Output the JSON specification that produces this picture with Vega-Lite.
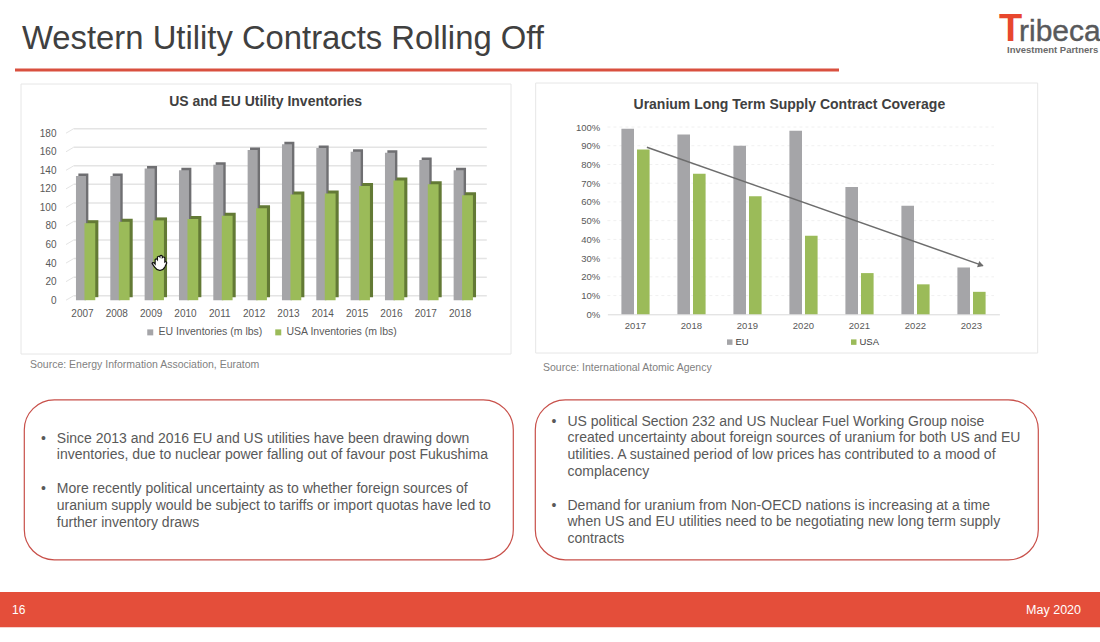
{"$schema":"https://vega.github.io/schema/vega-lite/v6.json","padding":0,"background":"#ffffff","spacing":31,"bounds":"full","resolve":{"scale":{"color":"independent"},"legend":{"color":"independent"}},
"config":{"view":{"stroke":null},"font":"Liberation Sans","axis":{"labelFont":"Liberation Sans","labelColor":"#595959","title":null,"ticks":false,"domain":false,"grid":false,"zindex":1},"legend":{"labelFont":"Liberation Sans"},"title":{"font":"Liberation Sans","fontWeight":"bold","color":"#404040","anchor":"middle"}},
"datasets":{
"inv":[
{"year":"2007","series":"EU Inventories (m lbs)","value":134},{"year":"2008","series":"EU Inventories (m lbs)","value":134},{"year":"2009","series":"EU Inventories (m lbs)","value":142},{"year":"2010","series":"EU Inventories (m lbs)","value":140},{"year":"2011","series":"EU Inventories (m lbs)","value":146},{"year":"2012","series":"EU Inventories (m lbs)","value":162},{"year":"2013","series":"EU Inventories (m lbs)","value":168},{"year":"2014","series":"EU Inventories (m lbs)","value":164},{"year":"2015","series":"EU Inventories (m lbs)","value":160},{"year":"2016","series":"EU Inventories (m lbs)","value":159},{"year":"2017","series":"EU Inventories (m lbs)","value":151},{"year":"2018","series":"EU Inventories (m lbs)","value":140},
{"year":"2007","series":"USA Inventories (m lbs)","value":83},{"year":"2008","series":"USA Inventories (m lbs)","value":84.5},{"year":"2009","series":"USA Inventories (m lbs)","value":86},{"year":"2010","series":"USA Inventories (m lbs)","value":87.5},{"year":"2011","series":"USA Inventories (m lbs)","value":91},{"year":"2012","series":"USA Inventories (m lbs)","value":99},{"year":"2013","series":"USA Inventories (m lbs)","value":114},{"year":"2014","series":"USA Inventories (m lbs)","value":115},{"year":"2015","series":"USA Inventories (m lbs)","value":123},{"year":"2016","series":"USA Inventories (m lbs)","value":129},{"year":"2017","series":"USA Inventories (m lbs)","value":125},{"year":"2018","series":"USA Inventories (m lbs)","value":113}],
"cov":[
{"year":"2017","series":"EU","value":0.99},{"year":"2018","series":"EU","value":0.96},{"year":"2019","series":"EU","value":0.9},{"year":"2020","series":"EU","value":0.98},{"year":"2021","series":"EU","value":0.68},{"year":"2022","series":"EU","value":0.58},{"year":"2023","series":"EU","value":0.25},
{"year":"2017","series":"USA","value":0.88},{"year":"2018","series":"USA","value":0.75},{"year":"2019","series":"USA","value":0.63},{"year":"2020","series":"USA","value":0.42},{"year":"2021","series":"USA","value":0.22},{"year":"2022","series":"USA","value":0.16},{"year":"2023","series":"USA","value":0.12}],
"invTicks":[{"tick":0},{"tick":20},{"tick":40},{"tick":60},{"tick":80},{"tick":100},{"tick":120},{"tick":140},{"tick":160},{"tick":180}],
"covTicks":[{"tick":0.1},{"tick":0.2},{"tick":0.3},{"tick":0.4},{"tick":0.5},{"tick":0.6},{"tick":0.7},{"tick":0.8},{"tick":0.9},{"tick":1}]
},
"vconcat":[
{"spacing":24.5,"bounds":"full","resolve":{"scale":{"color":"independent"},"legend":{"color":"independent"}},"vconcat":[
{"spacing":0,"bounds":"full","resolve":{"scale":{"color":"independent"},"legend":{"color":"independent"}},"vconcat":[
{"width":1100,"height":82,"layer":[
{"data":{"values":[{"label":"Western Utility Contracts Rolling Off"}]},"mark":{"type":"text","align":"left","baseline":"middle","fontSize":32.8,"color":"#404040"},"encoding":{"text":{"field":"label"},"x":{"value":22},"y":{"value":39}}},
{"data":{"values":[{"k":"rule"}]},"mark":{"type":"rule","color":"#d9503f","strokeWidth":3},"encoding":{"x":{"value":15},"x2":{"value":839},"y":{"value":70}}},
{"data":{"values":[{"label":"T"}]},"mark":{"type":"text","align":"left","baseline":"alphabetic","fontSize":38,"fontWeight":"bold","color":"#e8472e"},"encoding":{"text":{"field":"label"},"x":{"value":999},"y":{"value":41}}},
{"data":{"values":[{"label":"ribeca"}]},"mark":{"type":"text","align":"left","baseline":"alphabetic","fontSize":30,"color":"#58595b","stroke":"#58595b","strokeWidth":0.4},"encoding":{"text":{"field":"label"},"x":{"value":1019},"y":{"value":41}}},
{"data":{"values":[{"label":"Investment Partners"}]},"mark":{"type":"text","align":"left","baseline":"middle","fontSize":9.5,"fontWeight":"bold","color":"#6a6a6a"},"encoding":{"text":{"field":"label"},"x":{"value":1007},"y":{"value":49.5}}}
]},
{"spacing":0,"bounds":"flush","resolve":{"scale":{"color":"independent"},"legend":{"color":"independent"}},"hconcat":[
{"width":477.3,"height":187.3,"title":{"text":"US and EU Utility Inventories","fontSize":14,"offset":-25,"dx":27},
"encoding":{"x":{"field":"year","type":"nominal","scale":{"type":"band","range":[65.3,477.3],"padding":0},"axis":{"offset":-14.1,"labelAngle":0,"labelPadding":8,"labelFontSize":10}},"y":{"type":"quantitative","scale":{"domain":[0,180],"range":[173.2,6.2],"nice":false},"axis":{"offset":-59,"labelPadding":3,"values":[0,20,40,60,80,100,120,140,160,180],"labelFontSize":10}}},
"layer":[
{"data":{"values":[{"k":"card"}]},"mark":{"type":"rect","filled":false,"stroke":"#e6e6e6"},"encoding":{"x":{"value":21},"x2":{"value":511},"y":{"value":-43},"y2":{"value":227}}},
{"data":{"values":[{"label":"Source: Energy Information Association, Euratom"}]},"mark":{"type":"text","align":"left","baseline":"middle","fontSize":10.5,"color":"#7f7f7f"},"encoding":{"text":{"field":"label"},"x":{"value":30},"y":{"value":238}}},
{"data":{"name":"invTicks"},"mark":{"type":"rule","color":"#e4e4e4","strokeWidth":1.5,"yOffset":-4.5},"encoding":{"x":{"value":73.7},"x2":{"value":486.8},"y":{"field":"tick"}}},
{"data":{"name":"invTicks"},"mark":{"type":"rule","color":"#e4e4e4","strokeWidth":1,"y2Offset":-4.5},"encoding":{"x":{"value":66},"x2":{"value":73.7},"y":{"field":"tick"},"y2":{"field":"tick"}}},
{"data":{"name":"inv"},"transform":[{"filter":"datum.series==='EU Inventories (m lbs)'"}],"mark":{"type":"bar","width":10,"xOffset":0.9,"yOffset":-2.5,"y2Offset":-2.5,"color":"#6f6f72"},"encoding":{"y":{"field":"value"},"y2":{"datum":0}}},
{"data":{"name":"inv"},"transform":[{"filter":"datum.series==='EU Inventories (m lbs)'"}],"mark":{"type":"bar","width":10,"xOffset":-1.5},"encoding":{"y":{"field":"value"},"y2":{"datum":0},"color":{"field":"series","scale":{"domain":["EU Inventories (m lbs)","USA Inventories (m lbs)"],"range":["#a5a5a8","#9bbb59"]},"legend":{"orient":"none","legendX":145,"legendY":200,"direction":"horizontal","title":null,"symbolType":"square","symbolSize":36,"labelFontSize":10.5,"labelColor":"#595959","columnPadding":10,"labelOffset":3}}}},
{"data":{"name":"inv"},"transform":[{"filter":"datum.series==='USA Inventories (m lbs)'"}],"mark":{"type":"bar","width":10.8,"xOffset":10.5,"yOffset":-3,"y2Offset":-3,"color":"#637a35"},"encoding":{"y":{"field":"value"},"y2":{"datum":0}}},
{"data":{"name":"inv"},"transform":[{"filter":"datum.series==='USA Inventories (m lbs)'"}],"mark":{"type":"bar","width":10.8,"xOffset":7.4},"encoding":{"y":{"field":"value"},"y2":{"datum":0},"color":{"field":"series"}}},
{"data":{"values":[{"year":"2009","value":40}]},"mark":{"type":"point","filled":true,"fill":"#ffffff","stroke":"#111111","strokeWidth":1.2,"opacity":1,"size":400,"xOffset":9,"shape":"M-0.5 0.1 L-0.5 -0.35 Q-0.38 -0.5 -0.27 -0.35 L-0.27 -0.62 Q-0.14 -0.75 -0.03 -0.62 L-0.03 -0.7 Q0.1 -0.85 0.22 -0.7 L0.22 -0.55 Q0.36 -0.68 0.47 -0.52 L0.47 -0.1 Q0.62 -0.2 0.66 -0.02 L0.47 0.4 Q0.3 0.75 -0.05 0.72 Q-0.35 0.7 -0.55 0.4 L-0.8 0.05 Q-0.78 -0.1 -0.6 -0.02 Z"},"encoding":{"y":{"field":"value"}}}
]},
{"width":622.7,"height":187.3,"title":{"text":"Uranium Long Term Supply Contract Coverage","fontSize":14,"offset":-29,"dx":0},
"encoding":{"x":{"field":"year","type":"nominal","scale":{"type":"band","range":[129.4,521.4],"padding":0},"axis":{"domain":true,"domainColor":"#d9d9d9","labelAngle":0,"labelPadding":6,"labelFontSize":9.5}},"y":{"type":"quantitative","scale":{"domain":[0,1],"range":[187.3,0],"nice":false},"axis":{"offset":-125.7,"labelPadding":4,"format":".0%","values":[0,0.1,0.2,0.3,0.4,0.5,0.6,0.7,0.8,0.9,1],"labelFontSize":9.5}}},
"layer":[
{"data":{"values":[{"k":"card"}]},"mark":{"type":"rect","filled":false,"stroke":"#e6e6e6"},"encoding":{"x":{"value":57.7},"x2":{"value":559.7},"y":{"value":-44},"y2":{"value":226}}},
{"data":{"values":[{"label":"Source: International Atomic Agency"}]},"mark":{"type":"text","align":"left","baseline":"middle","fontSize":10.5,"color":"#7f7f7f"},"encoding":{"text":{"field":"label"},"x":{"value":65},"y":{"value":241}}},
{"data":{"name":"covTicks"},"mark":{"type":"rule","color":"#f0f0f0","strokeWidth":1,"strokeDash":[3,3]},"encoding":{"x":{"value":129.4},"x2":{"value":516},"y":{"field":"tick"}}},
{"data":{"name":"cov"},"transform":[{"filter":"datum.series==='EU'"}],"mark":{"type":"bar","width":12.6,"xOffset":-7.7},"encoding":{"y":{"field":"value"},"y2":{"datum":0},"color":{"field":"series","scale":{"domain":["EU","USA"],"range":["#a5a5a8","#9bbb59"]},"legend":{"orient":"none","legendX":247,"legendY":210,"direction":"horizontal","title":null,"symbolType":"square","symbolSize":30,"labelFontSize":9.5,"labelColor":"#404040","columnPadding":100,"labelOffset":1}}}},
{"data":{"name":"cov"},"transform":[{"filter":"datum.series==='USA'"}],"mark":{"type":"bar","width":12.6,"xOffset":7.9},"encoding":{"y":{"field":"value"},"y2":{"datum":0},"color":{"field":"series"}}},
{"data":{"values":[{"year":"2017","value":0.892},{"year":"2023","value":0.26}]},"mark":{"type":"line","color":"#6d6d6d","strokeWidth":1.5,"xOffset":11.5},"encoding":{"y":{"field":"value"}}},
{"data":{"values":[{"year":"2023","value":0.26}]},"mark":{"type":"point","shape":"triangle-right","filled":true,"color":"#6d6d6d","opacity":1,"size":45,"angle":19.4,"xOffset":9.5,"yOffset":-0.5},"encoding":{"y":{"field":"value"}}}
]}
]}
]},
{"spacing":22,"bounds":"flush","hconcat":[
{"width":2,"height":160,"data":{"values":[]},"mark":"text","encoding":{}},
{"width":489,"height":160,"view":{"stroke":"#c8504a","strokeWidth":1.2,"cornerRadius":30,"fill":"#ffffff"},
"encoding":{"x":{"field":"role","type":"nominal","scale":{"type":"point","domain":["bullet","text"],"range":[17,32.8],"padding":0},"axis":null},"y":{"field":"line","type":"quantitative","scale":{"domain":[0,5],"range":[39,123.3],"nice":false,"zero":false},"axis":null},"text":{"field":"label"}},
"data":{"values":[
{"role":"bullet","line":0,"label":"•"},{"role":"text","line":0,"label":"Since 2013 and 2016 EU and US utilities have been drawing down"},{"role":"text","line":1,"label":"inventories, due to nuclear power falling out of favour post Fukushima"},
{"role":"bullet","line":3,"label":"•"},{"role":"text","line":3,"label":"More recently political uncertainty as to whether foreign sources of"},{"role":"text","line":4,"label":"uranium supply would be subject to tariffs or import quotas have led to"},{"role":"text","line":5,"label":"further inventory draws"}]},
"mark":{"type":"text","align":"left","baseline":"middle","fontSize":14,"color":"#595959"}},
{"width":503,"height":160,"view":{"stroke":"#c8504a","strokeWidth":1.2,"cornerRadius":30,"fill":"#ffffff"},
"encoding":{"x":{"field":"role","type":"nominal","scale":{"type":"point","domain":["bullet","text"],"range":[16.5,32.5],"padding":0},"axis":null},"y":{"field":"line","type":"quantitative","scale":{"domain":[0,7],"range":[22,139.7],"nice":false,"zero":false},"axis":null},"text":{"field":"label"}},
"data":{"values":[
{"role":"bullet","line":0,"label":"•"},{"role":"text","line":0,"label":"US political Section 232 and US Nuclear Fuel Working Group noise"},{"role":"text","line":1,"label":"created uncertainty about foreign sources of uranium for both US and EU"},{"role":"text","line":2,"label":"utilities. A sustained period of low prices has contributed to a mood of"},{"role":"text","line":3,"label":"complacency"},
{"role":"bullet","line":5,"label":"•"},{"role":"text","line":5,"label":"Demand for uranium from Non-OECD nations is increasing at a time"},{"role":"text","line":6,"label":"when US and EU utilities need to be negotiating new long term supply"},{"role":"text","line":7,"label":"contracts"}]},
"mark":{"type":"text","align":"left","baseline":"middle","fontSize":14,"color":"#595959"}}
]}
]},
{"width":1100,"height":35.3,"view":{"fill":"#e44e3a","stroke":null},"layer":[
{"data":{"values":[{"label":"16"}]},"mark":{"type":"text","align":"left","baseline":"middle","fontSize":12,"color":"#ffffff"},"encoding":{"text":{"field":"label"},"x":{"value":12},"y":{"value":18}}},
{"data":{"values":[{"label":"May 2020"}]},"mark":{"type":"text","align":"right","baseline":"middle","fontSize":12.5,"color":"#ffffff"},"encoding":{"text":{"field":"label"},"x":{"value":1081},"y":{"value":18}}}
]}
]}
